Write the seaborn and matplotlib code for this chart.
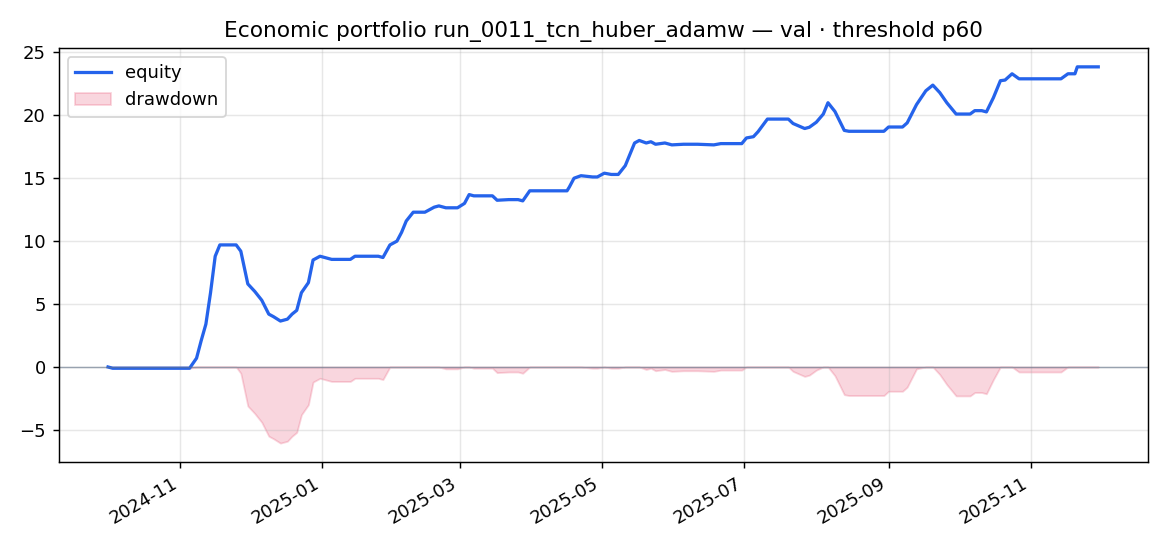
import numpy as np
import pandas as pd
import matplotlib
matplotlib.use("Agg")
import matplotlib.pyplot as plt
import seaborn as sns

plt.rcParams["font.family"] = ["DejaVu Sans"]

title = "Economic portfolio run_0011_tcn_huber_adamw \u2014 val \u00b7 threshold p60"

# equity curve (date, cumulative equity)
dates = [
    "2024-10-01", "2024-10-03", "2024-11-05", "2024-11-08", "2024-11-10", "2024-11-12",
    "2024-11-14", "2024-11-16", "2024-11-18", "2024-11-25", "2024-11-27", "2024-11-30",
    "2024-12-03", "2024-12-06", "2024-12-09", "2024-12-11", "2024-12-14", "2024-12-17",
    "2024-12-19", "2024-12-21", "2024-12-23", "2024-12-26", "2024-12-28", "2024-12-31",
    "2025-01-05", "2025-01-13", "2025-01-15", "2025-01-25", "2025-01-27", "2025-01-30",
    "2025-02-02", "2025-02-04", "2025-02-06", "2025-02-09", "2025-02-14", "2025-02-18",
    "2025-02-20", "2025-02-23", "2025-02-28", "2025-03-03", "2025-03-05", "2025-03-07",
    "2025-03-15", "2025-03-17", "2025-03-22", "2025-03-26", "2025-03-28", "2025-03-31",
    "2025-04-16", "2025-04-17", "2025-04-19", "2025-04-22", "2025-04-27", "2025-04-29",
    "2025-05-02", "2025-05-05", "2025-05-08", "2025-05-11", "2025-05-13", "2025-05-15",
    "2025-05-17", "2025-05-20", "2025-05-22", "2025-05-24", "2025-05-28", "2025-05-31",
    "2025-06-05", "2025-06-11", "2025-06-18", "2025-06-21", "2025-06-30", "2025-07-02",
    "2025-07-05", "2025-07-07", "2025-07-11", "2025-07-20", "2025-07-22", "2025-07-27",
    "2025-07-29", "2025-08-01", "2025-08-04", "2025-08-06", "2025-08-09", "2025-08-13",
    "2025-08-15", "2025-08-30", "2025-09-01", "2025-09-07", "2025-09-09", "2025-09-13",
    "2025-09-17", "2025-09-20", "2025-09-23", "2025-09-26", "2025-09-30", "2025-10-06",
    "2025-10-08", "2025-10-11", "2025-10-13", "2025-10-16", "2025-10-19", "2025-10-21",
    "2025-10-24", "2025-10-27", "2025-11-14", "2025-11-17", "2025-11-20", "2025-11-21",
    "2025-11-30",
]
equity = [
    0.0, -0.1, -0.1, 0.7, 2.1, 3.4,
    5.9, 8.8, 9.7, 9.7, 9.2, 6.6,
    6.0, 5.3, 4.2, 4.0, 3.65, 3.8,
    4.2, 4.5, 5.9, 6.7, 8.5, 8.8,
    8.55, 8.55, 8.8, 8.8, 8.7, 9.7,
    10.0, 10.7, 11.6, 12.3, 12.3, 12.7,
    12.8, 12.65, 12.65, 13.0, 13.7, 13.6,
    13.6, 13.25, 13.3, 13.3, 13.2, 14.0,
    14.0, 14.3, 15.0, 15.2, 15.1, 15.1,
    15.4, 15.3, 15.3, 16.0, 16.9, 17.8,
    18.0, 17.8, 17.9, 17.7, 17.8, 17.65,
    17.7, 17.7, 17.65, 17.75, 17.75, 18.2,
    18.3, 18.7, 19.7, 19.7, 19.35, 18.95,
    19.05, 19.45, 20.1, 21.0, 20.3, 18.8,
    18.73, 18.73, 19.07, 19.07, 19.4, 20.85,
    21.95, 22.4, 21.8, 21.0, 20.1, 20.1,
    20.37, 20.37, 20.27, 21.4, 22.75, 22.8,
    23.3, 22.9, 22.9, 23.3, 23.3, 23.85,
    23.85,
]

df = pd.DataFrame({"date": pd.to_datetime(dates), "equity": equity})
df["drawdown"] = df["equity"] - df["equity"].cummax()

fig, ax = plt.subplots(figsize=(9, 4.2), dpi=130)

sns.lineplot(data=df, x="date", y="equity", ax=ax, color="#2563eb", linewidth=1.8, label="equity")
ax.fill_between(df["date"], df["drawdown"], 0, color="#e11d48", alpha=0.18, label="drawdown")
ax.axhline(0, color="#64748b", linewidth=0.8, alpha=0.6)

ax.set_title(title, fontsize=12)
ax.set_xlabel("")
ax.set_ylabel("")
ax.grid(alpha=0.3)
ax.legend(loc="upper left")
fig.autofmt_xdate()

fig.subplots_adjust(left=0.05, right=0.981, top=0.912, bottom=0.154)
fig.savefig("out.png", dpi=130)
